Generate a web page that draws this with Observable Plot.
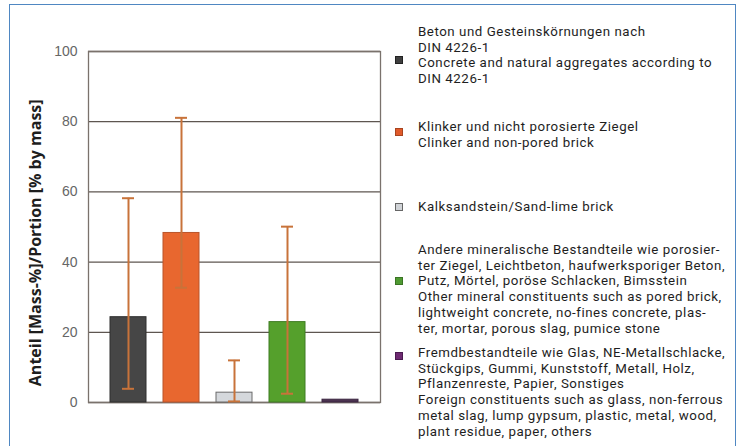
<!DOCTYPE html>
<html>
<head>
<meta charset="utf-8">
<script src="https://cdn.jsdelivr.net/npm/d3@7"></script>
<script src="https://cdn.jsdelivr.net/npm/@observablehq/plot@0.6"></script>
<style>
  html, body { margin: 0; padding: 0; background: #ffffff; }
  #wrap { position: relative; width: 745px; height: 446px; overflow: hidden; font-family: Roboto, sans-serif; }
  #border { position: absolute; left: 9px; top: 4px; width: 727px; height: 460px; border: 1.5px solid #4f87c2; box-sizing: border-box; }
  #chart { position: absolute; left: 0; top: 0; }
  .lg { position: absolute; left: 418px; font-family: Roboto, sans-serif; font-size: 13.3px; letter-spacing: 0.55px; line-height: 15.7px; color: #1e1e1e; white-space: nowrap; }
  .sw { position: absolute; width: 8px; height: 8px; box-sizing: border-box; border: 1px solid; }
</style>
</head>
<body>
<div id="wrap">
  <div id="border"></div>
  <div id="chart"></div>
  <div id="legend"></div>
</div>
<script>
const categories = ["Beton", "Klinker", "Kalksandstein", "Andere", "Fremd"];
const values = [24.3, 48.3, 2.8, 22.9, 0.8];
const errLow = [3.9, 32.7, 0.3, 2.5, null];
const errHigh = [58.2, 81.1, 12.0, 50.1, null];
const fills = ["#464646", "#e8672f", "#d5d8dc", "#55a02c", "#4b3350"];
const strokes = ["#2e2e2e", "#b9542a", "#6a6a6a", "#3f7c22", "#3a2540"];
const yTicks = [0, 20, 40, 60, 80, 100];
const yLabel = "Anteil [Mass-%]/Portion [% by mass]";
const yLabelAt = 45.5;
const legendTexts = [
  ["Beton und Gesteinskörnungen nach", "DIN 4226-1", "Concrete and natural aggregates according to", "DIN 4226-1"],
  ["Klinker und nicht porosierte Ziegel", "Clinker and non-pored brick"],
  ["Kalksandstein/Sand-lime brick"],
  ["Andere mineralische Bestandteile wie porosier-", "ter Ziegel, Leichtbeton, haufwerksporiger Beton,", "Putz, Mörtel, poröse Schlacken, Bimsstein", "Other mineral constituents such as pored brick,", "lightweight concrete, no-fines concrete, plas-", "ter, mortar, porous slag, pumice stone"],
  ["Fremdbestandteile wie Glas, NE-Metallschlacke,", "Stückgips, Gummi, Kunststoff, Metall, Holz,", "Pflanzenreste, Papier, Sonstiges", "Foreign constituents such as glass, non-ferrous", "metal slag, lump gypsum, plastic, metal, wood,", "plant residue, paper, others"]
];
const legendSwatch = ["#3f3f3f", "#e05a2a", "#d0d3d7", "#4f9a32", "#6e2a72"];
const legendSwatchStroke = ["#222", "#a8441f", "#666", "#3a7424", "#4a1a50"];

const data = categories.map((c, i) => ({cat: c, v: values[i], lo: errLow[i], hi: errHigh[i], fill: fills[i], stroke: strokes[i]}));
const errData = data.filter(d => d.hi != null);

const plot = Plot.plot({
  width: 390,
  height: 446,
  marginLeft: 88,
  marginRight: 10,
  marginTop: 51,
  marginBottom: 44,
  style: {fontFamily: "Liberation Sans, Arial, sans-serif", background: "transparent"},
  x: {domain: categories, paddingInner: 0.318, paddingOuter: 0.366, axis: null},
  y: {domain: [0, 100]},
  marks: [
    Plot.ruleY(yTicks, {stroke: "#5e5650", strokeWidth: 1.3}),
    Plot.frame({stroke: "#7a726c", strokeWidth: 1.3}),
    Plot.barY(data, {x: "cat", y: "v", fill: "fill", stroke: "stroke", strokeWidth: 1}),
    Plot.ruleX(errData, {x: "cat", y1: "lo", y2: "hi", stroke: "#c8733a", strokeWidth: 2}),
    Plot.tickY(errData, {x: "cat", y: "hi", stroke: "#c8733a", strokeWidth: 2, insetLeft: 12, insetRight: 12}),
    Plot.tickY(errData, {x: "cat", y: "lo", stroke: "#c8733a", strokeWidth: 2, insetLeft: 12, insetRight: 12}),
    Plot.axisY(yTicks, {tickSize: 0, tickPadding: 11, fontSize: 14, fill: "#666666", label: null}),
    Plot.text([yLabel], {text: d => d, y: [yLabelAt], frameAnchor: "left", textAnchor: "middle", lineAnchor: "middle", dx: -53, rotate: -90, fontSize: 16, fontWeight: "bold", fill: "#1e1e1e", fontFamily: "Open Sans, sans-serif"})
  ]
});
document.getElementById("chart").appendChild(plot);

const legendTops = [24, 119, 199, 242, 345];
const swatchCenters = [60, 132, 207, 281, 356];
const legend = document.getElementById("legend");
legendTexts.forEach((lines, i) => {
  const d = document.createElement("div");
  d.className = "lg";
  d.style.top = legendTops[i] + "px";
  d.innerHTML = lines.join("<br>");
  legend.appendChild(d);
  const s = document.createElement("div");
  s.className = "sw";
  s.style.left = (399 - 4) + "px";
  s.style.top = (swatchCenters[i] - 4) + "px";
  s.style.background = legendSwatch[i];
  s.style.borderColor = legendSwatchStroke[i];
  legend.appendChild(s);
});
</script>
</body>
</html>
